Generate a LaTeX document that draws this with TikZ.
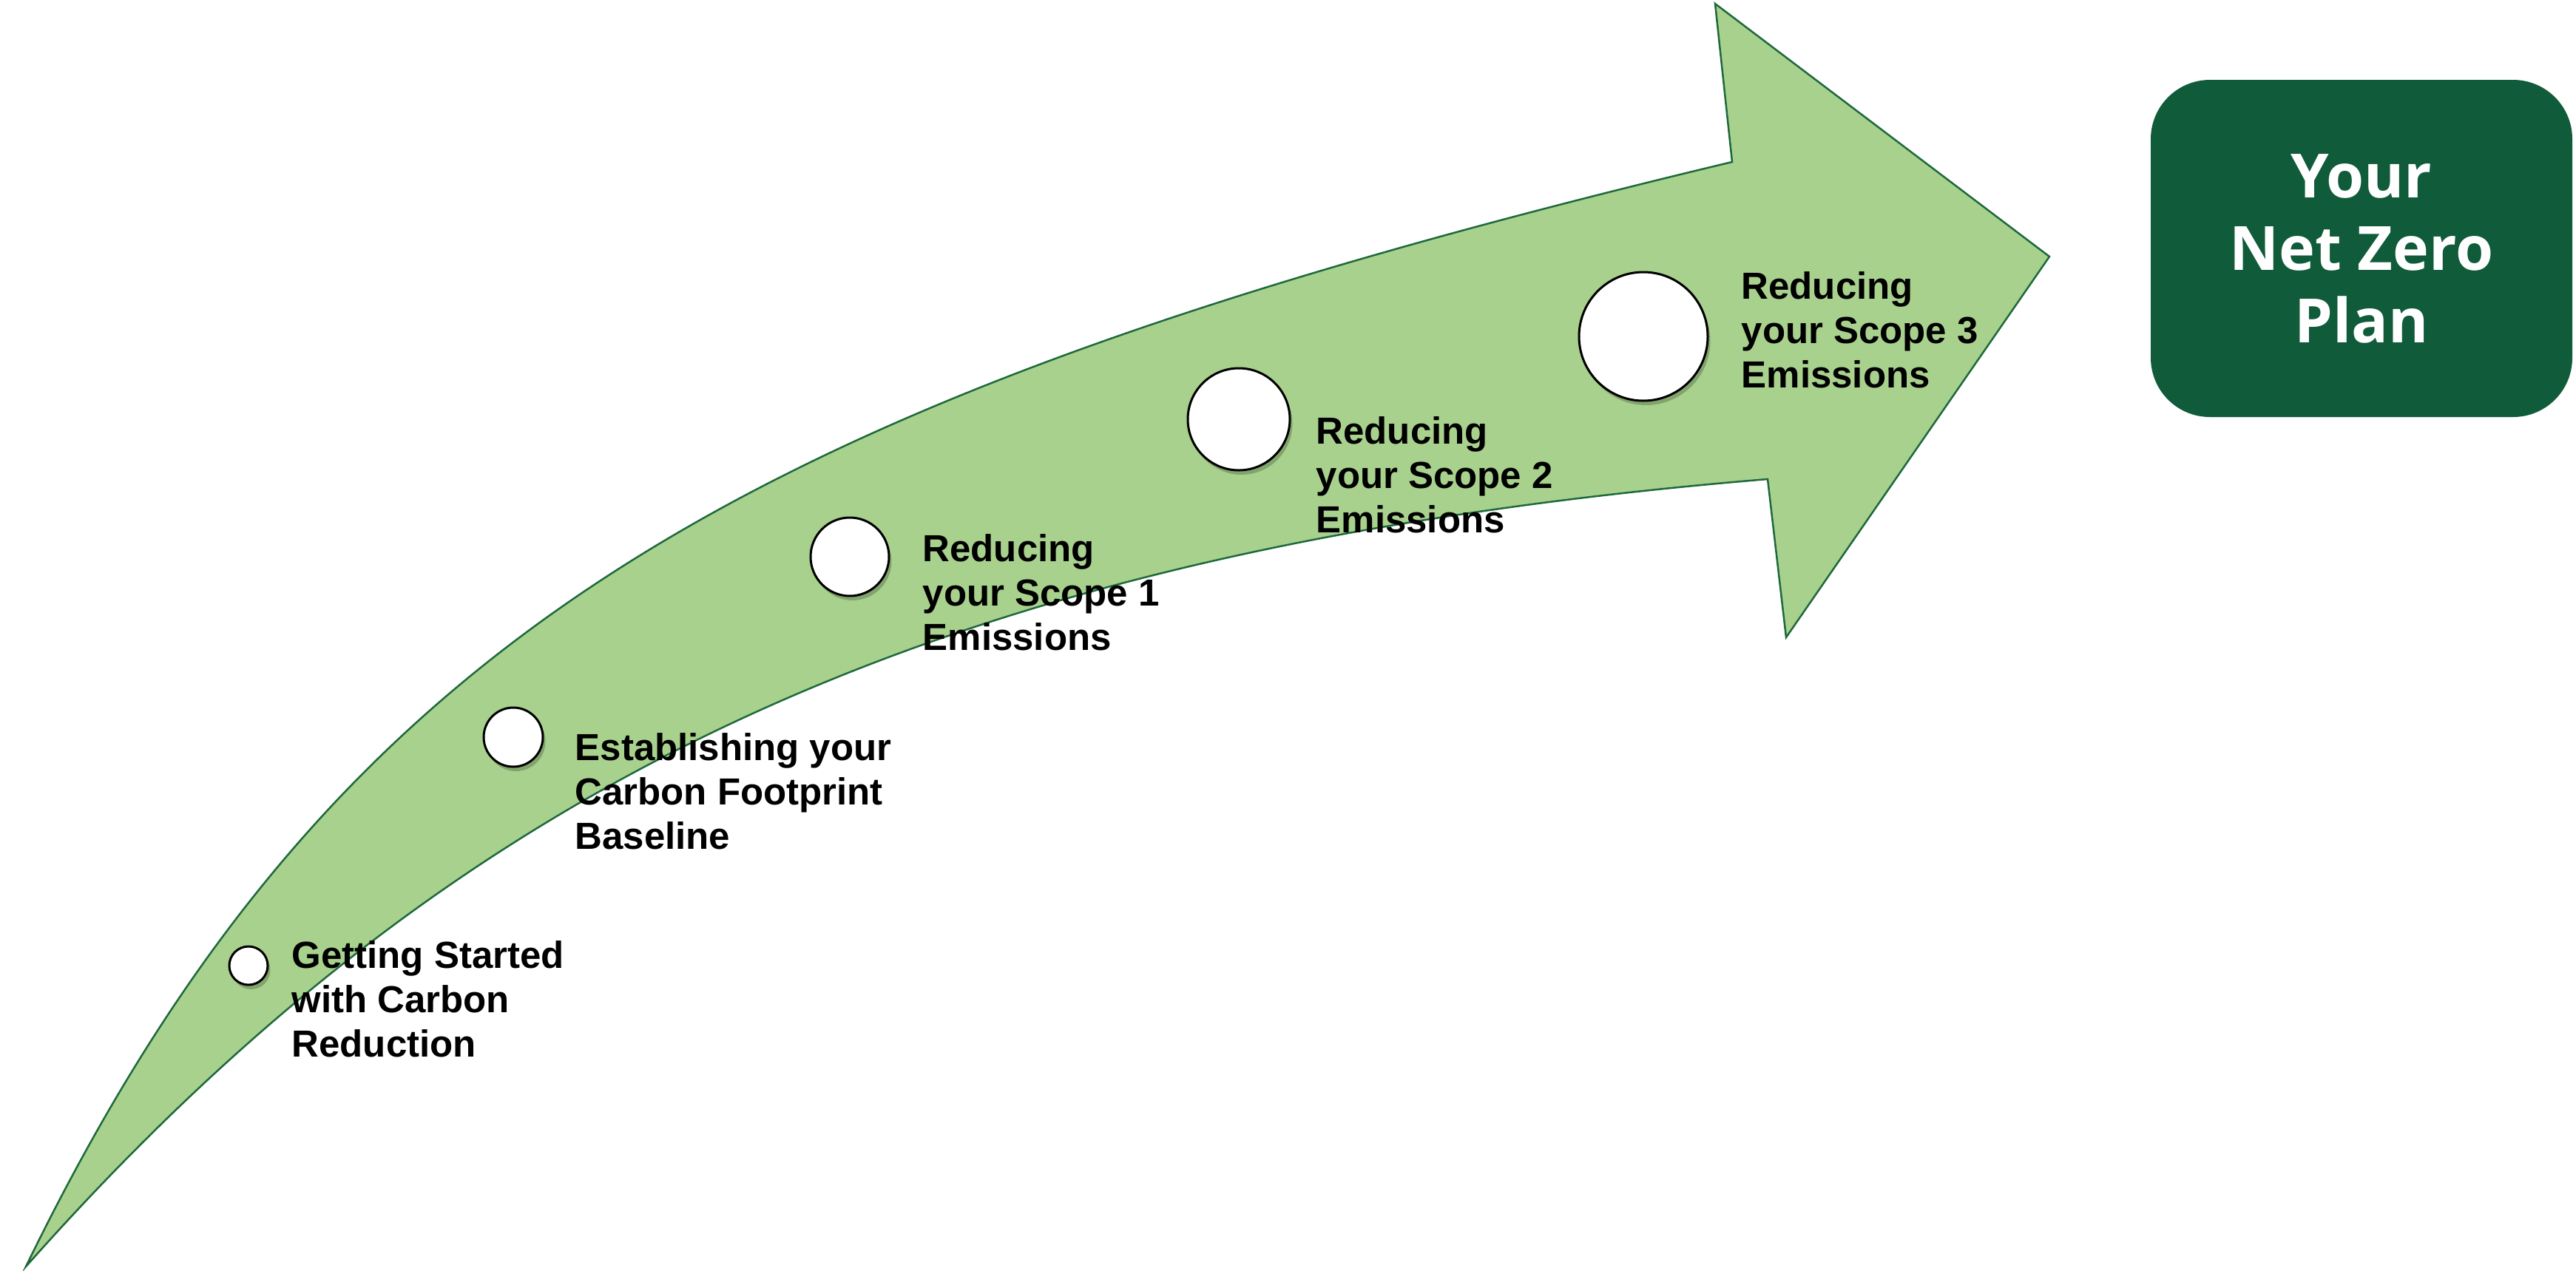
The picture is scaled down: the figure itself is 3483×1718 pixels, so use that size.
\documentclass[tikz,border=0pt]{standalone}
\usepackage{fontspec}
\setmainfont{Liberation Sans}
\newfontfamily\planfont{Open Sans}
\usetikzlibrary{shapes,shadows,calc}
\definecolor{leaf}{RGB}{169,209,142}
\definecolor{leafline}{RGB}{30,105,60}
\definecolor{forest}{RGB}{15,91,58}
\tikzstyle{dot}=[circle,draw=black,line width=0.3mm,fill=white,inner sep=0pt,
  drop shadow={shadow xshift=0.35mm,shadow yshift=-0.6mm,fill=black,opacity=0.22}]
\tikzstyle{lbl}=[anchor=base west,align=left,inner sep=0pt,
  font=\fontsize{14.5}{17}\selectfont\bfseries]
\tikzstyle{goal}=[fill=forest,text=white,rounded corners=8mm,align=center,
  font=\planfont\fontsize{23.5}{27.9}\selectfont\bfseries]

\begin{document}
\begin{tikzpicture}[x=0.1mm,y=-0.1mm]
  \useasboundingbox (0,0) rectangle (3483,1718);
  % curved arrow
  \draw[leafline,fill=leaf,line width=0.25mm,line join=miter]
    (35,1713) .. controls (450,860) and (1000,540) .. (2342,219)
    -- (2319,5) -- (2771,347) -- (2415,862) -- (2390,648)
    .. controls (1293,739) and (633,1038) .. cycle;
  % steps
  \node [dot,minimum size=5.2mm] (s1) at (336,1306) {};
  \node [dot,minimum size=8mm] (s2) at (694,997) {};
  \node [dot,minimum size=10.6mm] (s3) at (1149,753) {};
  \node [dot,minimum size=13.8mm] (s4) at (1675,567) {};
  \node [dot,minimum size=17.4mm] (s5) at (2222,455) {};
  % labels (base = last line)
  \node [lbl] (t1) at (394,1429) {Getting Started\\with Carbon\\Reduction};
  \node [lbl] (t2) at (777,1148) {Establishing your\\Carbon Footprint\\Baseline};
  \node [lbl] (t3) at (1247,879) {Reducing\\your Scope 1\\Emissions};
  \node [lbl] (t4) at (1779,720) {Reducing\\your Scope 2\\Emissions};
  \node [lbl] (t5) at (2354,524) {Reducing\\your Scope 3\\Emissions};
  % goal
  \node [goal,minimum width=57mm,minimum height=45.6mm] (plan) at (3193,336) {Your\\Net Zero\\Plan};
\end{tikzpicture}
\end{document}
